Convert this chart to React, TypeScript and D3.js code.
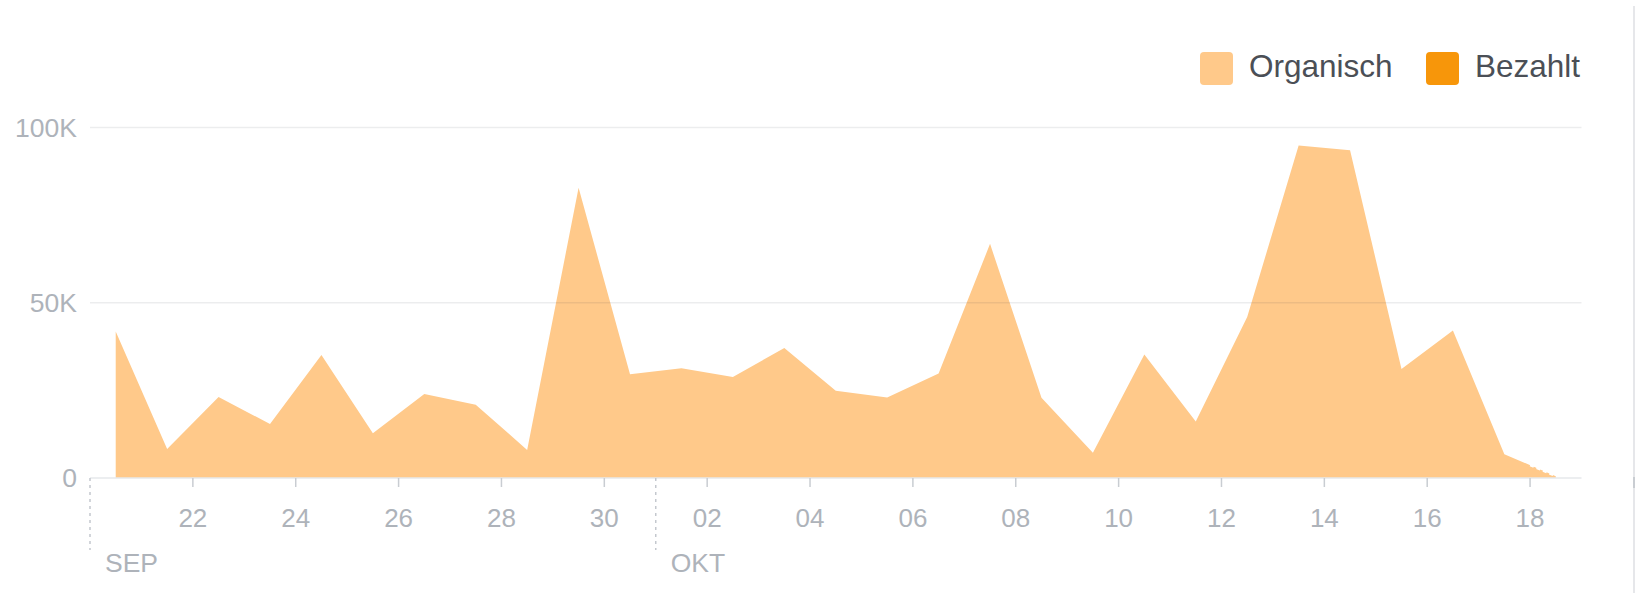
import * as d3 from "d3";

const days = [
  "2017-09-20", "2017-09-21", "2017-09-22", "2017-09-23", "2017-09-24",
  "2017-09-25", "2017-09-26", "2017-09-27", "2017-09-28", "2017-09-29",
  "2017-09-30", "2017-10-01", "2017-10-02", "2017-10-03", "2017-10-04",
  "2017-10-05", "2017-10-06", "2017-10-07", "2017-10-08", "2017-10-09",
  "2017-10-10", "2017-10-11", "2017-10-12", "2017-10-13", "2017-10-14",
  "2017-10-15", "2017-10-16", "2017-10-17", "2017-10-18",
];
const organic = [
  41800, 8300, 23100, 15400, 35100, 12800, 24000, 20900, 8000, 82800,
  29600, 31300, 28800, 37100, 24900, 23000, 29800, 66800, 22900, 7200,
  35200, 16100, 45900, 94900, 93500, 31100, 42100, 6800, 500,
];
const paid = [
  0, 0, 0, 0, 0, 0, 0, 0, 0, 0, 0, 0, 0, 0, 0, 0, 0, 0, 0, 0, 0, 0, 0, 0,
  0, 0, 0, 0, 0,
];
const tickDays = [
  "2017-09-22", "2017-09-24", "2017-09-26", "2017-09-28", "2017-09-30",
  "2017-10-02", "2017-10-04", "2017-10-06", "2017-10-08", "2017-10-10",
  "2017-10-12", "2017-10-14", "2017-10-16", "2017-10-18",
];
const months = ["2017-09-20", "2017-10-01"];
const monthLabels = ["SEP", "OKT"];
const yTicks = [0, 50000, 100000];
const seriesNames = ["Organisch", "Bezahlt"];
const seriesColors = ["#ffc98a", "#f7960a"];

const width = 1637;
const height = 593;
const font = "'Liberation Sans', Arial, Helvetica, sans-serif";

const parse = d3.utcParse("%Y-%m-%d");

const App = () => {
  const x = d3
    .scaleUtc()
    .domain([parse(days[0])!, d3.utcDay.offset(parse(days[days.length - 1])!, 1)])
    .range([90, 1581.5]);
  const y = d3.scaleLinear().domain([0, 100000]).range([478, 127.5]);

  // points sit at noon of each day
  const mid = (s: string) => d3.utcHour.offset(parse(s)!, 12);
  const rows = days.map((d, i) => ({ date: mid(d), organic: organic[i], paid: paid[i] }));

  const stack = d3.stack<any>().keys(["organic", "paid"]);
  const layers = stack(rows);
  const area = d3
    .area<any>()
    .x((d) => x(d.data.date))
    .y0((d) => y(d[0]))
    .y1((d) => y(d[1]));

  // last (partial) day gets a dashed edge
  const n = rows.length;
  const lastMid = parse(days[n - 1])!;
  const tFrac = (lastMid.getTime() - rows[n - 2].date.getTime()) /
    (rows[n - 1].date.getTime() - rows[n - 2].date.getTime());
  const vMid = d3.interpolateNumber(organic[n - 2], organic[n - 1])(tFrac);
  const dashed = d3.line<[Date, number]>()
    .x((d) => x(d[0]))
    .y((d) => y(d[1]))([
    [lastMid, vMid],
    [rows[n - 1].date, organic[n - 1]],
  ]);

  const fmt = d3.utcFormat("%d");
  const [x0, x1] = x.range();

  return (
    <svg
      width={width}
      height={height}
      style={{ position: "absolute", left: 0, top: 0, background: "#fff" }}
      fontFamily={font}
    >
      {/* right border */}
      <line x1={1634} x2={1634} y1={6} y2={height} stroke="#e6e7ea" strokeWidth={2} />
      <line x1={1634} x2={1634} y1={477} y2={488} stroke="#c9cdd2" strokeWidth={2} />

      {/* legend */}
      {seriesNames.map((name, i) => {
        const lx = i === 0 ? 1200 : 1426;
        return (
          <g key={name}>
            <rect x={lx} y={52} width={33} height={33} rx={4} fill={seriesColors[i]} />
            <text x={lx + 49} y={77} fontSize={31.5} fill="#4b4f56">
              {name}
            </text>
          </g>
        );
      })}

      {/* areas */}
      {layers.map((layer, i) => (
        <path key={layer.key} d={area(layer) || ""} fill={seriesColors[i]} />
      ))}
      <path d={dashed || ""} fill="none" stroke="#fff" strokeWidth={2} strokeDasharray="4 3" />

      {/* gridlines */}
      {yTicks.map((t) => (
        <g key={t}>
          <line
            x1={x0}
            x2={x1}
            y1={y(t)}
            y2={y(t)}
            stroke={t === 0 ? "#e6e8eb" : "rgba(40,50,70,0.09)"}
            strokeWidth={1.5}
          />
          <text
            x={77}
            y={y(t)}
            dy="0.35em"
            textAnchor="end"
            fontSize={26.5}
            fill="#aeb3ba"
          >
            {t === 0 ? "0" : `${t / 1000}K`}
          </text>
        </g>
      ))}

      {/* x ticks */}
      {tickDays.map((d) => {
        const tx = x(parse(d)!);
        return (
          <g key={d}>
            <line x1={tx} x2={tx} y1={478} y2={487} stroke="#c9cdd2" strokeWidth={1.5} />
            <text x={tx} y={527} textAnchor="middle" fontSize={26} fill="#aeb3ba">
              {fmt(parse(d)!)}
            </text>
          </g>
        );
      })}

      {/* month separators */}
      {months.map((m, i) => {
        const mx = x(parse(m)!);
        return (
          <g key={m}>
            <line
              x1={mx}
              x2={mx}
              y1={478}
              y2={550}
              stroke="#c4c8ce"
              strokeWidth={1.5}
              strokeDasharray="3 4"
            />
            <text x={mx + 15} y={572} fontSize={26.5} fill="#aeb3ba">
              {monthLabels[i]}
            </text>
          </g>
        );
      })}
    </svg>
  );
};

export default App;
